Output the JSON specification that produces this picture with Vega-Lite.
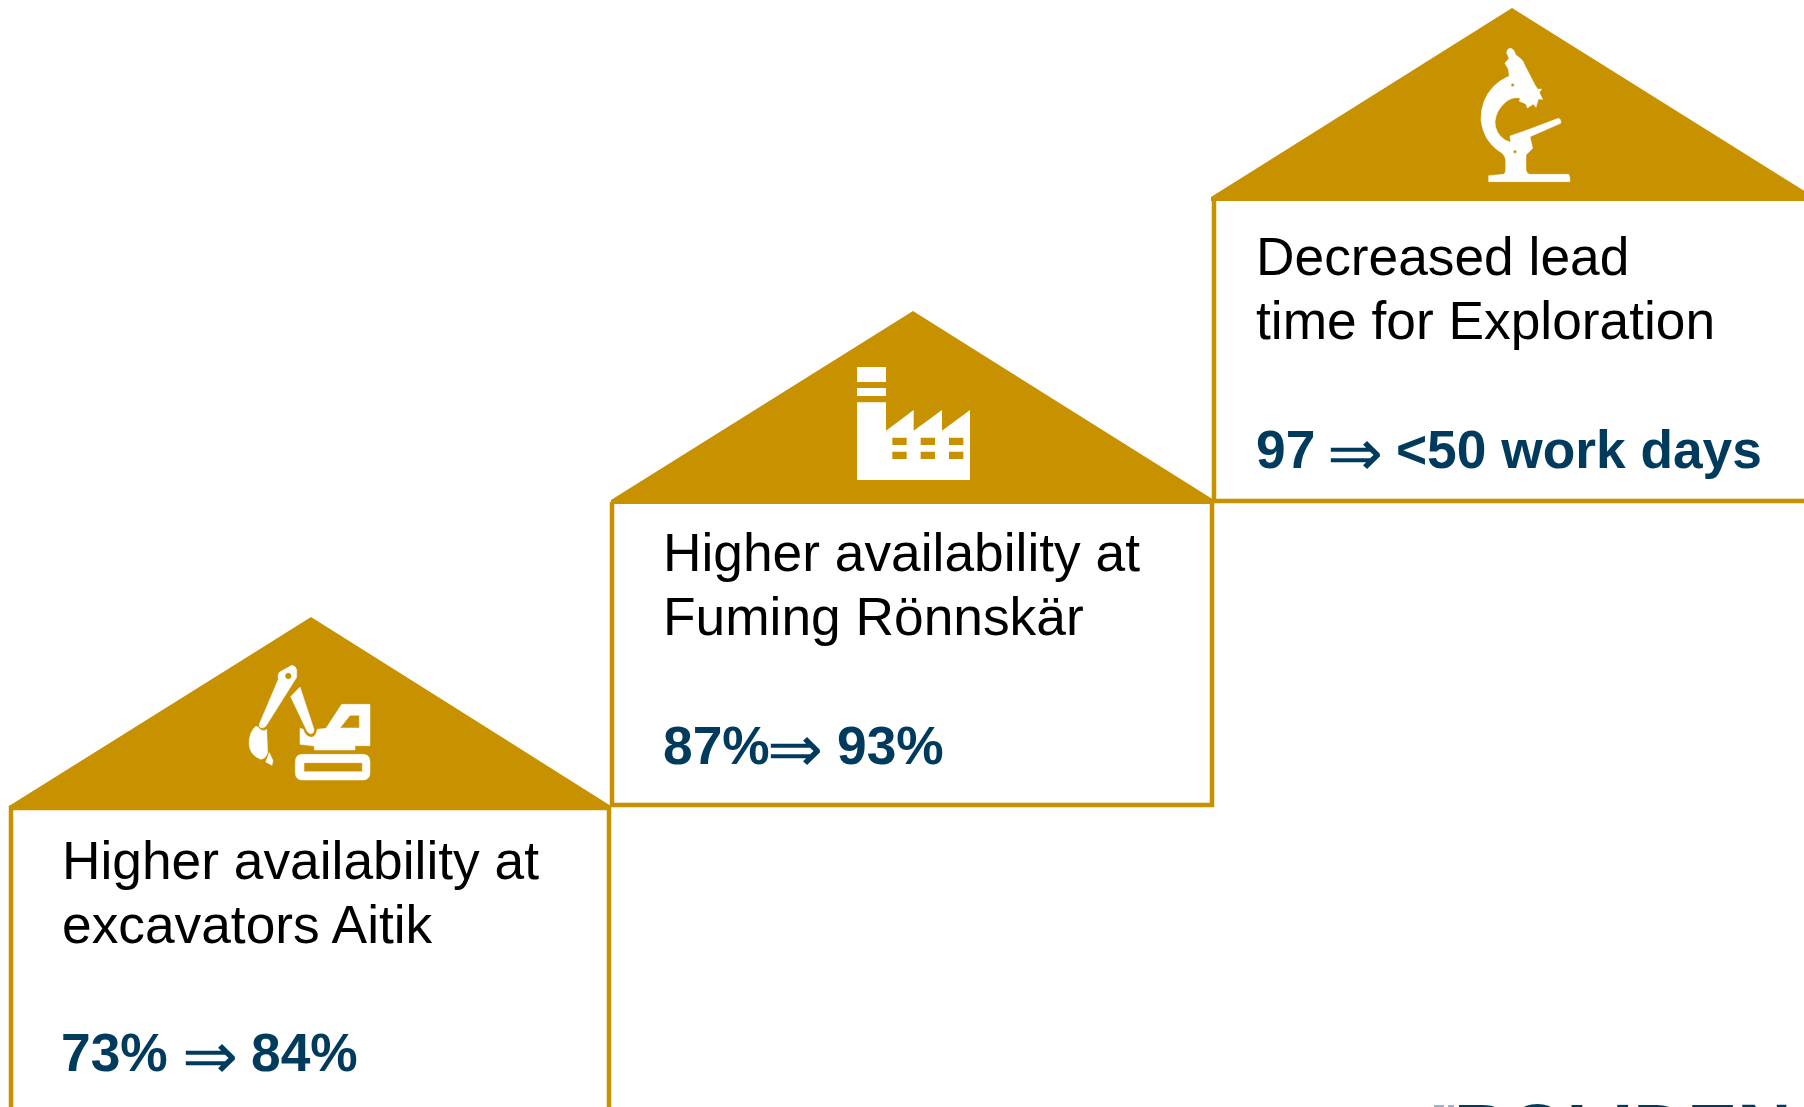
{
  "$schema": "https://vega.github.io/schema/vega-lite/v6.json",
  "width": 1804,
  "height": 1107,
  "padding": 0,
  "autosize": {"type": "none"},
  "background": "white",
  "view": {"stroke": null},
  "datasets": {
    "roofs": [
      {"house": "Aitik", "x": 9, "top": 806, "base": 810},
      {"house": "Aitik", "x": 311, "top": 617, "base": 810},
      {"house": "Aitik", "x": 611, "top": 806, "base": 810},
      {"house": "Rönnskär", "x": 611, "top": 500, "base": 504},
      {"house": "Rönnskär", "x": 913, "top": 311, "base": 504},
      {"house": "Rönnskär", "x": 1214, "top": 500, "base": 504},
      {"house": "Exploration", "x": 1211, "top": 197, "base": 201},
      {"house": "Exploration", "x": 1512, "top": 8, "base": 201},
      {"house": "Exploration", "x": 1814, "top": 197, "base": 201}
    ],
    "walls": [
      {"house": "Aitik", "seq": 1, "x": 11, "y": 1107},
      {"house": "Aitik", "seq": 2, "x": 11, "y": 808},
      {"house": "Aitik", "seq": 3, "x": 609, "y": 808},
      {"house": "Aitik", "seq": 4, "x": 609, "y": 1107},
      {"house": "Rönnskär", "seq": 1, "x": 612, "y": 502},
      {"house": "Rönnskär", "seq": 2, "x": 612, "y": 805},
      {"house": "Rönnskär", "seq": 3, "x": 1212, "y": 805},
      {"house": "Rönnskär", "seq": 4, "x": 1212, "y": 502},
      {"house": "Exploration", "seq": 1, "x": 1214, "y": 198},
      {"house": "Exploration", "seq": 2, "x": 1214, "y": 501},
      {"house": "Exploration", "seq": 3, "x": 1804, "y": 501}
    ],
    "captions": [
      {"x": 62, "y": 879, "text": "Higher availability at"},
      {"x": 62, "y": 943, "text": "excavators Aitik"},
      {"x": 663, "y": 571, "text": "Higher availability at"},
      {"x": 663, "y": 635, "text": "Fuming Rönnskär"},
      {"x": 1256, "y": 275, "text": "Decreased lead"},
      {"x": 1256, "y": 339, "text": "time for Exploration"}
    ],
    "results": [
      {"x": 61, "y": 1071, "text": "73%"},
      {"x": 251, "y": 1071, "text": "84%"},
      {"x": 663, "y": 764, "text": "87%"},
      {"x": 837, "y": 764, "text": "93%"},
      {"x": 1256, "y": 468, "text": "97"},
      {"x": 1396, "y": 468, "text": "<50 work days"}
    ],
    "arrows": [
      {"x": 182, "y": 1079, "text": "⇒"},
      {"x": 767, "y": 772, "text": "⇒"},
      {"x": 1327, "y": 476, "text": "⇒"}
    ],
    "iconAnchors": [
      {"icon": "excavator", "x": 220, "y": 640},
      {"icon": "factory", "x": 830, "y": 350},
      {"icon": "microscope", "x": 1450, "y": 30}
    ],
    "wordmark": [{"x": 1454, "y": 1156, "text": "BOLIDEN"}],
    "wordmarkSymbol": [
      {"x": 1434, "x2": 1444, "y": 1105, "y2": 1107},
      {"x": 1448, "x2": 1454, "y": 1105, "y2": 1107}
    ]
  },
  "layer": [
    {
      "data": {"name": "roofs"},
      "mark": {"type": "area", "color": "#C79100", "orient": "vertical"},
      "encoding": {
        "x": {"field": "x", "type": "quantitative", "scale": {"domain": [0, 1804], "nice": false, "zero": false}, "axis": null},
        "y": {"field": "top", "type": "quantitative", "scale": {"domain": [1107, 0], "nice": false, "zero": false}, "axis": null},
        "y2": {"field": "base"},
        "detail": {"field": "house"}
      }
    },
    {
      "data": {"name": "walls"},
      "mark": {"type": "line", "color": "#C79100", "strokeWidth": 4.5, "strokeJoin": "miter"},
      "encoding": {
        "x": {"field": "x", "type": "quantitative"},
        "y": {"field": "y", "type": "quantitative"},
        "detail": {"field": "house"},
        "order": {"field": "seq"}
      }
    },
    {
      "data": {"name": "captions"},
      "mark": {"type": "text", "font": "Liberation Sans", "fontSize": 53.3, "align": "left", "baseline": "alphabetic", "color": "#000000"},
      "encoding": {
        "x": {"field": "x", "type": "quantitative"},
        "y": {"field": "y", "type": "quantitative"},
        "text": {"field": "text"}
      }
    },
    {
      "data": {"name": "results"},
      "mark": {"type": "text", "font": "Liberation Sans", "fontSize": 53.3, "fontWeight": "bold", "align": "left", "baseline": "alphabetic", "color": "#003A5D"},
      "encoding": {
        "x": {"field": "x", "type": "quantitative"},
        "y": {"field": "y", "type": "quantitative"},
        "text": {"field": "text"}
      }
    },
    {
      "data": {"name": "arrows"},
      "mark": {"type": "text", "font": "DejaVu Sans", "fontSize": 67, "align": "left", "baseline": "alphabetic", "color": "#003A5D"},
      "encoding": {
        "x": {"field": "x", "type": "quantitative"},
        "y": {"field": "y", "type": "quantitative"},
        "text": {"field": "text"}
      }
    },
    {
      "data": {"name": "iconAnchors"},
      "transform": [{"filter": "datum.icon === 'excavator'"}],
      "mark": {
        "type": "point", "filled": true, "fill": "white", "stroke": "white", "strokeWidth": 0.5, "opacity": 1, "size": 0.4444,
        "shape": "M178 97 L215 76 Q228 78 230 90 L230 112 L140 255 Q130 270 118 260 L118 252 L175 118 Q172 103 178 97 Z M205 98 A10 10 0 1 0 205 118 A10 10 0 1 0 205 98 Z M212 170 L240 141 L282 268 Q282 285 268 280 L262 275 Z M108 258 Q118 262 122 270 Q135 275 140 268 L143 340 Q135 358 122 358 Q88 345 87 310 Q88 275 108 258 Z M148 338 L159 362 L156 376 L137 366 Z M240 265 L250 268 Q255 290 275 292 Q288 290 292 268 L318 265 L365 193 L450 193 L450 317 L405 317 L405 330 L283 330 L283 318 L240 313 Z M360 264 L418 264 L418 226 L390 226 Z M248 343 L428 343 Q450 343 450 365 L450 398 Q450 420 428 420 L248 420 Q226 420 226 398 L226 365 Q226 343 248 343 Z M252 368 L252 395 L427 395 L427 368 Z"
      },
      "encoding": {
        "x": {"field": "x", "type": "quantitative"},
        "y": {"field": "y", "type": "quantitative"}
      }
    },
    {
      "data": {"name": "iconAnchors"},
      "transform": [{"filter": "datum.icon === 'factory'"}],
      "mark": {
        "type": "point", "filled": true, "fill": "white", "stroke": null, "opacity": 1, "size": 0.4444,
        "shape": "M81 51 L168 51 L168 96 L81 96 Z M81 114 L168 114 L168 138 L81 138 Z M81 157 L168 157 L168 242 L251 180 L251 242 L336 180 L336 242 L420 180 L420 390 L81 390 Z M187 263 L187 285 L230 285 L230 263 Z M272 263 L272 285 L315 285 L315 263 Z M357 263 L357 285 L400 285 L400 263 Z M187 305 L187 327 L230 327 L230 305 Z M272 305 L272 327 L315 327 L315 305 Z M357 305 L357 327 L400 327 L400 305 Z"
      },
      "encoding": {
        "x": {"field": "x", "type": "quantitative"},
        "y": {"field": "y", "type": "quantitative"}
      }
    },
    {
      "data": {"name": "iconAnchors"},
      "transform": [{"filter": "datum.icon === 'microscope'"}],
      "mark": {
        "type": "point", "filled": true, "fill": "white", "stroke": "white", "strokeWidth": 0.5, "opacity": 1, "size": 0.4444,
        "shape": "M170 68 Q172 54 183 55 Q192 57 197 74 L213 87 Q220 92 224 105 L255 165 L263 178 L275 177 L268 188 L278 208 L265 207 L258 232 L250 222 L232 234 L228 222 L207 213 L212 205 Q190 198 168 215 Q138 240 135 275 Q135 310 165 330 L182 337 L180 318 L240 297 L325 265 Q335 268 332 280 L240 320 L248 355 L228 375 L228 420 Q230 432 240 433 L355 433 Q360 435 360 455 L116 455 L116 437 L160 433 Q167 430 167 420 L167 390 Q165 372 145 362 Q100 330 93 270 Q92 210 130 170 Q150 150 178 138 L175 118 L165 100 L177 85 Z M188 160 A5 5 0 1 0 188 170 A5 5 0 1 0 188 160 Z M195 360 A5 5 0 1 0 195 370 A5 5 0 1 0 195 360 Z"
      },
      "encoding": {
        "x": {"field": "x", "type": "quantitative"},
        "y": {"field": "y", "type": "quantitative"}
      }
    },
    {
      "data": {"name": "wordmark"},
      "mark": {"type": "text", "font": "Liberation Sans", "fontSize": 75, "fontWeight": "bold", "align": "left", "baseline": "alphabetic", "color": "#003A5D"},
      "encoding": {
        "x": {"field": "x", "type": "quantitative"},
        "y": {"field": "y", "type": "quantitative"},
        "text": {"field": "text"}
      }
    },
    {
      "data": {"name": "wordmarkSymbol"},
      "mark": {"type": "rect", "color": "#9FB0CC"},
      "encoding": {
        "x": {"field": "x", "type": "quantitative"},
        "x2": {"field": "x2"},
        "y": {"field": "y", "type": "quantitative"},
        "y2": {"field": "y2"}
      }
    }
  ]
}
